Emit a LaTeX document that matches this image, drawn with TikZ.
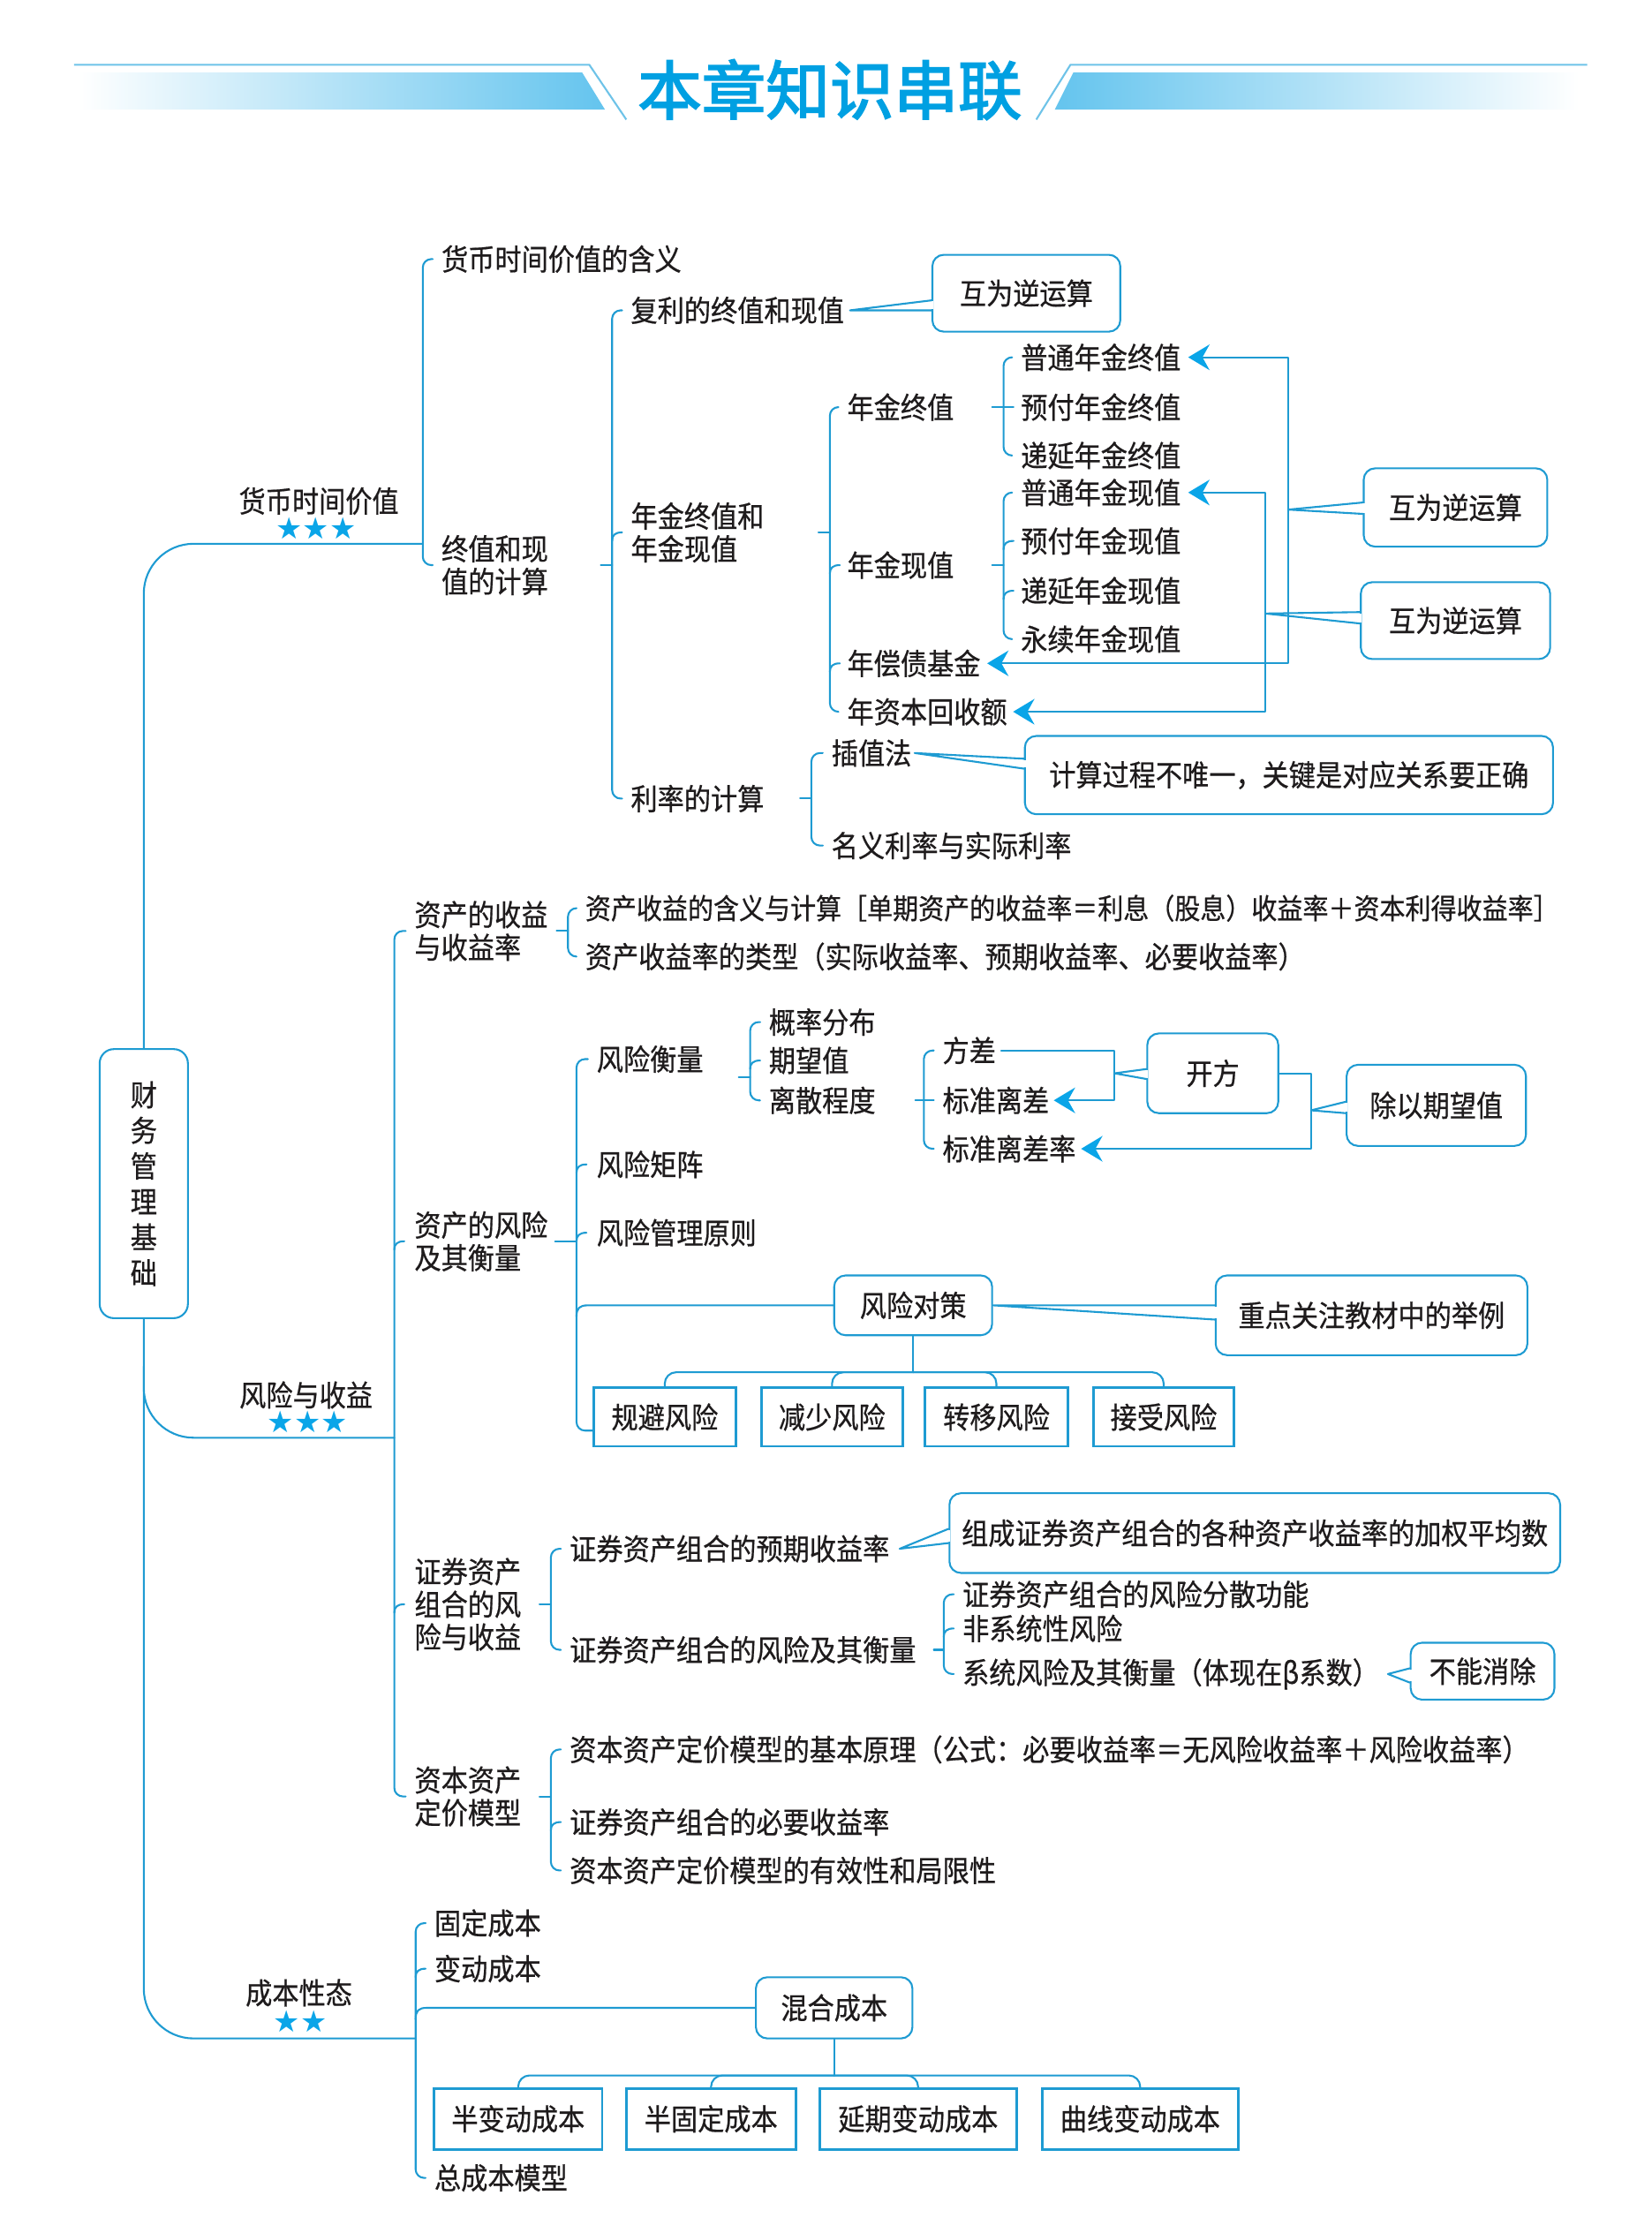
\documentclass[tikz,border=0pt]{standalone}
\usepackage{fontspec}
\newfontfamily\cjk{Noto Sans CJK SC}[FakeStretch=0.9,FakeBold=0.6]
\newfontfamily\cjkhead{Noto Sans CJK SC}[FakeBold=2.5]
\newfontfamily\symf{DejaVu Sans}
\usetikzlibrary{arrows.meta,calc}
\definecolor{lc}{RGB}{30,155,210}
\definecolor{ac}{RGB}{10,165,232}
\definecolor{tc}{RGB}{30,27,28}
\definecolor{hc}{RGB}{0,160,226}
\definecolor{bandc}{RGB}{100,196,238}
\definecolor{thinc}{RGB}{110,195,232}
\newcommand\brak[3]{\draw[ln,rounded corners=6] ([xshift=-4pt]#2.west) -- (#1 |- #2.west) -- (#1 |- #3.west) -- ([xshift=-4pt]#3.west);}
\newcommand\mcurl[2]{\draw[ln] ($(#1 |- #2.west)+(0,6)$) .. controls ($(#1 |- #2.west)+(0,2)$) and ($(#1 |- #2.west)+(2,0)$) .. ($(#1 |- #2.west)+(7,0)$);}
\newcommand\mytick[3]{\draw[ln] ($(#1 |- #3.center)+(-#2,0)$) -- (#1 |- #3.center);}
\newcommand\callout[4]{%
  \fill[white] ([xshift=-1.3pt,yshift=#3pt-0.8pt]#2.west) rectangle ([xshift=1.3pt,yshift=#4pt+0.8pt]#2.west);
  \draw[ln] ([yshift=#3pt]#2.west) -- #1 -- ([yshift=#4pt]#2.west);}
\begin{document}
\begin{tikzpicture}[x=1pt,y=-1pt,
  ln/.style={draw=lc,line width=1.3pt,line join=round,line cap=round},
  tx/.style={anchor=west,inner sep=2pt,font=\cjk\fontsize{20.8}{23}\selectfont,text=tc,align=left},
  txn/.style={anchor=west,inner sep=2pt,font=\cjk\fontsize{20}{23}\selectfont,text=tc,align=left},
  lab/.style={inner sep=0pt,font=\cjk\fontsize{20.8}{23}\selectfont,text=tc},
  stars/.style={inner sep=0pt,font=\symf\fontsize{21}{21}\selectfont,text=ac},
  cb/.style={draw=lc,line width=1.3pt,rounded corners=8pt,fill=white,inner sep=0pt,
    font=\cjk\fontsize{20.8}{25}\selectfont,text=tc,align=center},
  rb/.style={draw=lc,line width=1.8pt,fill=white,inner sep=0pt,
    font=\cjk\fontsize{20.8}{25}\selectfont,text=tc,align=center,minimum height=41pt},
  rc/.style={draw=lc,line width=1.8pt,fill=white,inner sep=0pt,
    font=\cjk\fontsize{20.8}{25}\selectfont,text=tc,align=center,minimum height=43pt},
  arrB/.style={{Stealth[length=15pt,width=18pt,inset=5pt,color=ac]}-{Stealth[length=15pt,width=18pt,inset=5pt,color=ac]}},
  arrE/.style={-{Stealth[length=15pt,width=18pt,inset=5pt,color=ac]}}
]
\useasboundingbox (0,0) rectangle (1160,1568.7);
\fill[white] (0,0) rectangle (1160,1568.7);

% ---------- header ----------
\shade[left color=white,right color=bandc] (55,51) -- (409,51) -- (425,77) -- (55,77) -- cycle;
\shade[left color=bandc,right color=white] (754,51) -- (1109,51) -- (1109,77) -- (741,77) -- cycle;
\draw[thinc,line width=1.3pt] (52,45.5) -- (414,45.5) -- (440,84);
\draw[thinc,line width=1.3pt] (728,84) -- (752,45.5) -- (1115,45.5);
\node[inner sep=0pt,font=\cjkhead\fontsize{45}{45}\selectfont,text=hc] (title) at (583,63) {本章知识串联};

% ---------- root ----------
\node[cb,rounded corners=10pt,minimum width=62pt,minimum height=189pt] (root) at (101,831.5) {财\\务\\管\\理\\基\\础};

% labels
\node[lab] (L1) at (224,352) {货币时间价值};
\node[stars] (S1) at (222,371) {★★★};
\node[lab] (L2) at (215,980) {风险与收益};
\node[stars] (S2) at (216,999) {★★★};
\node[lab] (L3) at (210,1400) {成本性态};
\node[stars] (S3) at (211,1420) {★★};

% ---------- section 1 ----------
\node[tx] (n11) at (308,182) {货币时间价值的含义};
\node[tx] (n12) at (308,397) {终值和现\\值的计算};
\node[tx] (n121) at (441,218) {复利的终值和现值};
\node[tx] (n122) at (441,374) {年金终值和\\年金现值};
\node[tx] (n123) at (441,561) {利率的计算};
\node[tx] (a1) at (593,286) {年金终值};
\node[tx] (a2) at (593,397) {年金现值};
\node[tx] (a3) at (593,466) {年偿债基金};
\node[tx] (a4) at (593,500) {年资本回收额};
\node[tx] (f1) at (715,251) {普通年金终值};
\node[tx] (f2) at (715,286) {预付年金终值};
\node[tx] (f3) at (715,320) {递延年金终值};
\node[tx] (p1) at (715,346) {普通年金现值};
\node[tx] (p2) at (715,380) {预付年金现值};
\node[tx] (p3) at (715,415) {递延年金现值};
\node[tx] (p4) at (715,449) {永续年金现值};
\node[tx] (r1) at (582,529) {插值法};
\node[tx] (r2) at (582,594) {名义利率与实际利率};
\node[cb,minimum width=132pt,minimum height=54pt] (c1) at (721,206) {互为逆运算};
\node[cb,minimum width=129pt,minimum height=55pt] (c2) at (1022.5,356.5) {互为逆运算};
\node[cb,minimum width=133pt,minimum height=54pt] (c3) at (1022.5,436) {互为逆运算};
\node[cb,minimum width=371pt,minimum height=55pt] (c4) at (905.5,544.5) {计算过程不唯一，关键是对应关系要正确};

% ---------- section 2 ----------
\node[tx] (s1) at (289,654) {资产的收益\\与收益率};
\node[txn] (s11) at (409,638) {资产收益的含义与计算［单期资产的收益率＝利息（股息）收益率＋资本利得收益率］};
\node[tx] (s12) at (409,672) {资产收益率的类型（实际收益率、预期收益率、必要收益率）};
\node[tx] (s2) at (289,872) {资产的风险\\及其衡量};
\node[tx] (s21) at (417,744) {风险衡量};
\node[tx] (s22) at (417,818) {风险矩阵};
\node[tx] (s23) at (417,866) {风险管理原则};
\node[tx] (s211) at (538,718) {概率分布};
\node[tx] (s212) at (538,745) {期望值};
\node[tx] (s213) at (538,773) {离散程度};
\node[tx] (d1) at (660,738) {方差};
\node[tx] (d2) at (660,773) {标准离差};
\node[tx] (d3) at (660,807) {标准离差率};
\node[cb,minimum width=92pt,minimum height=56pt] (kf) at (852,754) {开方};
\node[cb,minimum width=126pt,minimum height=57pt] (cq) at (1009,776.5) {除以期望值};
\node[cb,minimum width=111pt,minimum height=42pt] (s24) at (641.5,917) {风险对策};
\node[cb,minimum width=219pt,minimum height=56pt] (zd) at (963.5,924) {重点关注教材中的举例};
\node[rb,minimum width=100pt] (g1) at (467,995.5) {规避风险};
\node[rb,minimum width=99pt] (g2) at (584.5,995.5) {减少风险};
\node[rb,minimum width=100pt] (g3) at (700,995.5) {转移风险};
\node[rb,minimum width=99pt] (g4) at (817.5,995.5) {接受风险};
\node[tx] (s3) at (289,1127) {证券资产\\组合的风\\险与收益};
\node[tx] (s31) at (398,1088) {证券资产组合的预期收益率};
\node[tx] (s32) at (398,1159) {证券资产组合的风险及其衡量};
\node[cb,minimum width=429pt,minimum height=56pt] (zc) at (881.5,1077) {组成证券资产组合的各种资产收益率的加权平均数};
\node[tx] (s321) at (674,1120) {证券资产组合的风险分散功能};
\node[tx] (s322) at (674,1144) {非系统性风险};
\node[tx] (s323) at (674,1176) {系统风险及其衡量（体现在β系数）};
\node[cb,minimum width=101pt,minimum height=40pt] (bn) at (1041.5,1174) {不能消除};
\node[tx] (s4) at (289,1262) {资本资产\\定价模型};
\node[tx] (s41) at (398,1229) {资本资产定价模型的基本原理（公式：必要收益率＝无风险收益率＋风险收益率）};
\node[tx] (s42) at (398,1280) {证券资产组合的必要收益率};
\node[tx] (s43) at (398,1314) {资本资产定价模型的有效性和局限性};

% ---------- section 3 ----------
\node[tx] (k1) at (303,1351) {固定成本};
\node[tx] (k2) at (303,1383) {变动成本};
\node[cb,minimum width=110pt,minimum height=43pt] (k3) at (586,1410.5) {混合成本};
\node[tx] (k4) at (303,1530) {总成本模型};
\node[rc,minimum width=118pt] (h1) at (364,1488.5) {半变动成本};
\node[rc,minimum width=119pt] (h2) at (499.5,1488.5) {半固定成本};
\node[rc,minimum width=138pt] (h3) at (645,1488.5) {延期变动成本};
\node[rc,minimum width=138pt] (h4) at (801,1488.5) {曲线变动成本};

% ---------- coordinates ----------
\coordinate (X1) at (297,0);
\coordinate (X2) at (430,0);
\coordinate (X3) at (583,0);
\coordinate (X4) at (705,0);
\coordinate (X6) at (570,0);
\coordinate (vA) at (905,0);
\coordinate (vB) at (889,0);
\coordinate (Y1) at (277,0);
\coordinate (Y2) at (399,0);
\coordinate (Y3) at (405,0);
\coordinate (Y4) at (527,0);
\coordinate (Y5) at (649,0);
\coordinate (Y6) at (387,0);
\coordinate (Y7) at (663,0);
\coordinate (vD) at (783,0);
\coordinate (vE) at (921,0);
\coordinate (Z1) at (292,0);

% ---------- callout wedges ----------
\callout{([xshift=2pt]n121.east)}{c1}{-5}{-12}
\callout{(vA |- 0,358)}{c2}{3.5}{-4.5}
\callout{(vB |- 0,431)}{c3}{6}{-2}
\callout{(r1.east)}{c4}{11.5}{4.5}
\callout{(vD |- 0,754)}{kf}{3}{-4}
\callout{(vE |- 0,780)}{cq}{2.5}{-5.5}
\callout{(s24.east)}{zd}{7}{-3}
\callout{([xshift=5pt]s31.east)}{zc}{3}{-7}
\callout{([xshift=4pt]s323.east)}{bn}{2}{-8}

% ---------- main trunk ----------
\draw[ln,rounded corners=35] (root.north) -- (101,382) -- (X1 |- 0,382);
\draw[ln,rounded corners=35] (root.south) -- (101,1432) -- (Z1 |- 0,1432);
\draw[ln,rounded corners=35] (101,960) -- (101,1010) -- (Y1 |- 0,1010);

% ---------- section 1 brackets ----------
\brak{X1}{n11}{n12}
\mytick{X2}{8}{n12}
\brak{X2}{n121}{n123}
\mcurl{X2}{n122}
\mytick{X3}{8}{n122}
\brak{X3}{a1}{a4}
\mcurl{X3}{a2}
\mcurl{X3}{a3}
\mytick{X4}{8}{a1}
\brak{X4}{f1}{f3}
\draw[ln] (X4 |- f2.west) -- ++(7,0);
\mytick{X4}{8}{a2}
\brak{X4}{p1}{p4}
\mcurl{X4}{p2}
\mcurl{X4}{p3}
\mytick{X6}{8}{n123}
\brak{X6}{r1}{r2}

% arrows (inverse relations)
\draw[ln,arrB] ([xshift=3pt]f1.east) -- (vA |- f1.east) -- (vA |- a3.east) -- ([xshift=2.5pt]a3.east);
\draw[ln,arrB] ([xshift=3pt]p1.east) -- (vB |- p1.east) -- (vB |- a4.east) -- ([xshift=2pt]a4.east);

% ---------- section 2 brackets ----------
\brak{Y1}{s1}{s4}
\mcurl{Y1}{s2}
\mcurl{Y1}{s3}
\mytick{Y2}{8}{s1}
\brak{Y2}{s11}{s12}
\mytick{Y3}{15}{s2}
\draw[ln,rounded corners=6] ([xshift=-4pt]s21.west) -- (Y3 |- s21.west) -- (Y3 |- 0,1005) -- ([yshift=-9.5pt]g1.west);
\mcurl{Y3}{s22}
\mcurl{Y3}{s23}
\draw[ln] ($(Y3 |- s24.west)+(0,8)$) .. controls ($(Y3 |- s24.west)+(0,2)$) and ($(Y3 |- s24.west)+(2,0)$) .. ($(Y3 |- s24.west)+(8,0)$) -- (s24.west);
\draw[ln] (519,757) -- (Y4 |- 0,757);
\brak{Y4}{s211}{s213}
\mcurl{Y4}{s212}
\mytick{Y5}{6}{s213}
\brak{Y5}{d1}{d3}
\draw[ln] (Y5 |- d2.west) -- ++(7,0);
\draw[ln,arrE] ([xshift=1.5pt]d1.east) -- (vD |- d1.east) -- (vD |- d2.east) -- ([xshift=1pt]d2.east);
\draw[ln,arrE] (kf.east) -- (vE |- kf.east) -- (vE |- d3.east) -- ([xshift=1.5pt]d3.east);
\draw[ln] (s24.south) -- (641.5,964);
\foreach \g in {g1,g2,g3,g4} {\draw[ln,rounded corners=8] (641.5,964) -| (\g.north);}
\mytick{Y6}{8}{s3}
\brak{Y6}{s31}{s32}
\mytick{Y7}{7}{s32}
\brak{Y7}{s321}{s323}
\mcurl{Y7}{s322}
\mytick{Y6}{8}{s4}
\brak{Y6}{s41}{s43}
\mcurl{Y6}{s42}

% ---------- section 3 brackets ----------
\brak{Z1}{k1}{k4}
\mcurl{Z1}{k2}
\draw[ln] ($(Z1 |- k3.west)+(0,8)$) .. controls ($(Z1 |- k3.west)+(0,2)$) and ($(Z1 |- k3.west)+(2,0)$) .. ($(Z1 |- k3.west)+(8,0)$) -- (k3.west);
\draw[ln] (k3.south) -- (586,1458);
\foreach \h in {h1,h2,h3,h4} {\draw[ln,rounded corners=8] (586,1458) -| (\h.north);}
\end{tikzpicture}
\end{document}
